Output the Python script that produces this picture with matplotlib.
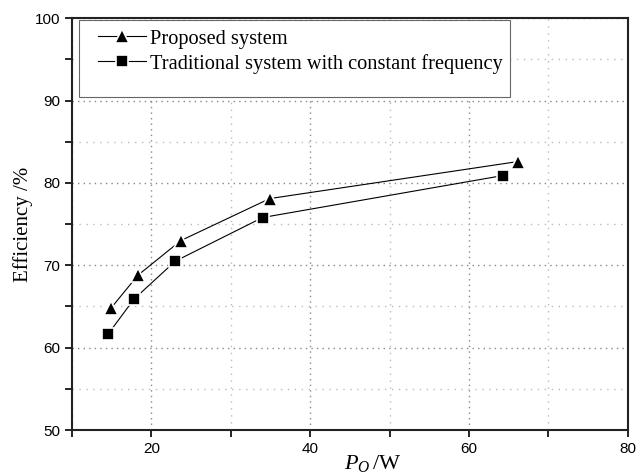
import matplotlib
matplotlib.use("Agg")
import matplotlib.pyplot as plt
from matplotlib.patches import Rectangle
from matplotlib.ticker import MultipleLocator

# data
p_proposed = [14.9, 18.3, 23.7, 34.9, 66.2]
eff_proposed = [64.8, 68.8, 73.0, 78.1, 82.6]
p_traditional = [14.5, 17.8, 23.0, 34.0, 64.3]
eff_traditional = [61.6, 65.9, 70.5, 75.8, 80.9]

labels = ['Proposed system', 'Traditional system with constant frequency']

plt.rcParams['mathtext.fontset'] = 'custom'
plt.rcParams['mathtext.it'] = 'Liberation Serif:italic'
plt.rcParams['mathtext.rm'] = 'Liberation Serif'

fig = plt.figure(figsize=(6.38, 4.75), dpi=100)
ax = fig.add_axes([0.113, 0.0947, 0.871, 0.867])

l1, = ax.plot(p_proposed, eff_proposed, color='black', lw=0.8, marker='^', ms=10.5,
              mfc='black', mec='white', mew=1.2, label=labels[0], zorder=3)
l2, = ax.plot(p_traditional, eff_traditional, color='black', lw=0.8, marker='s', ms=8.5,
              mfc='black', mec='white', mew=1.2, label=labels[1], zorder=3)

ax.set_xlim(10, 80)
ax.set_ylim(50, 100)
ax.xaxis.set_major_locator(MultipleLocator(20))
ax.xaxis.set_minor_locator(MultipleLocator(10))
ax.yaxis.set_major_locator(MultipleLocator(10))
ax.yaxis.set_minor_locator(MultipleLocator(5))

ax.grid(which='major', color='#888888', linestyle=(0, (1, 3)), lw=1.0)
ax.grid(which='minor', color='#bbbbbb', linestyle=(0, (1, 4)), lw=1.0)
ax.set_axisbelow(True)

ax.tick_params(which='both', direction='out', top=False, right=False,
               labelsize=11, width=1.2, length=5)
for lab in ax.get_xticklabels() + ax.get_yticklabels():
    lab.set_family('Liberation Sans')
for s in ax.spines.values():
    s.set_linewidth(1.5)
    s.set_color('#222222')

ax.set_xlabel(r'$P_O\,$/W', family='Liberation Serif', fontsize=16)
ax.xaxis.set_label_coords(0.54, -0.055, transform=ax.transAxes)
ax.xaxis.label.set_va('top')
ax.set_ylabel('Efficiency /%', family='Liberation Serif', fontsize=15)
ax.yaxis.set_label_coords(-0.07, 0.5)

# legend box drawn by hand: it has a blank strip under the two entries
box = Rectangle((0.0126, 0.808), 0.775, 0.187, transform=ax.transAxes,
                facecolor='white', edgecolor='#666666', lw=0.8, zorder=4)
ax.add_patch(box)
leg = ax.legend([l1, l2], labels, loc='upper left',
                bbox_to_anchor=(0.046, 0.973), frameon=False,
                prop={'family': 'Liberation Serif', 'size': 14.7},
                handlelength=2.35, handletextpad=0.2, borderpad=0.0,
                labelspacing=0.25, borderaxespad=0.0)
leg.set_zorder(5)

fig.savefig('out.png', dpi=100)
